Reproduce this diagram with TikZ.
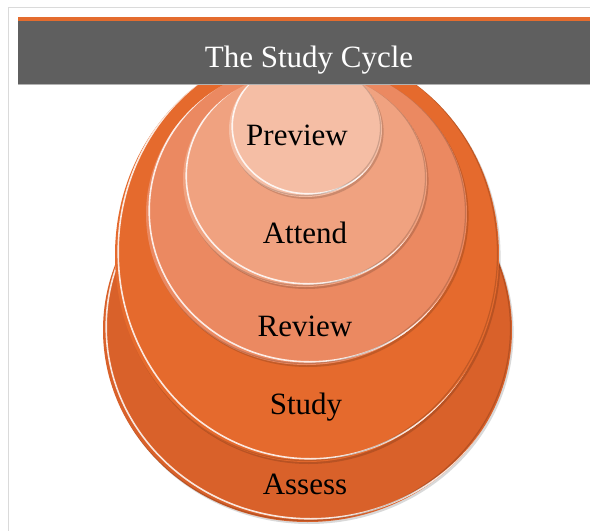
\documentclass[tikz,border=0pt]{standalone}
\usepackage{fontspec}
\setmainfont{Liberation Serif}
\usetikzlibrary{shapes.geometric}
\definecolor{cAssess}{RGB}{217,97,42}
\definecolor{cStudy}{RGB}{229,106,45}
\definecolor{cReview}{RGB}{235,137,97}
\definecolor{cAttend}{RGB}{240,162,128}
\definecolor{cPreview}{RGB}{245,190,165}
\definecolor{bannergray}{RGB}{95,95,95}
\definecolor{strip}{RGB}{228,108,46}
\definecolor{framegray}{RGB}{218,218,218}
\newcommand{\bevellayer}[6]{%
  % #1 name, #2 cx, #3 cy, #4 rx, #5 ry, #6 colour
  \fill[black,opacity=.15] (#2+1.6,#3+2.0) ellipse [x radius=#4, y radius=#5];
  \node[disc,fill=#6,minimum width=2*#4pt,minimum height=2*#5pt] (#1) at (#2,#3) {};
  \begin{scope}
    \clip (#2,#3) ellipse [x radius=#4, y radius=#5];
    \draw[white,line width=1.6pt,opacity=.85] (#2+3.2,#3-3.2) ellipse [x radius=#4, y radius=#5];
    \draw[black,line width=1.2pt,opacity=.16] (#2-1.5,#3-1.5) ellipse [x radius=#4, y radius=#5];
  \end{scope}
}
\begin{document}
\begin{tikzpicture}[x=1pt,y=-1pt,
  disc/.style={ellipse,draw=none,inner sep=0pt,outer sep=0pt},
  lbl/.style={anchor=base,font=\fontsize{31}{31}\selectfont,text=black,inner sep=0pt},
  ttl/.style={anchor=base,font=\fontsize{31}{31}\selectfont,text=white,inner sep=0pt}]
\useasboundingbox (0,0) rectangle (590,531);
\fill[white] (0,0) rectangle (590,531);
% frame
\draw[framegray,line width=1.2pt] (8.5,531) -- (8.5,7.5) -- (590,7.5);
% stacked ellipses
\bevellayer{assess}{307.5}{330}{204.5}{192}{cAssess}
\bevellayer{study}{307}{255}{192}{207}{cStudy}
\bevellayer{review}{306.5}{214}{160.5}{151}{cReview}
\bevellayer{attend}{305}{179}{122}{108}{cAttend}
\bevellayer{preview}{305.5}{129.5}{76.5}{67.5}{cPreview}
% banner
\fill[strip] (18,16.7) rectangle (590,21);
\fill[bannergray] (18,21) rectangle (590,84);
\draw[gray!60,line width=1pt] (18,84.5) -- (590,84.5);
\node[ttl] (title) at (309,67) {The Study Cycle};
% labels
\node[lbl] (lpreview) at (297,145.5) {Preview};
\node[lbl] (lattend) at (305,243) {Attend};
\node[lbl] (lreview) at (305,336.5) {Review};
\node[lbl] (lstudy) at (306,414.5) {Study};
\node[lbl] (lassess) at (305,494.5) {Assess};
\end{tikzpicture}
\end{document}
